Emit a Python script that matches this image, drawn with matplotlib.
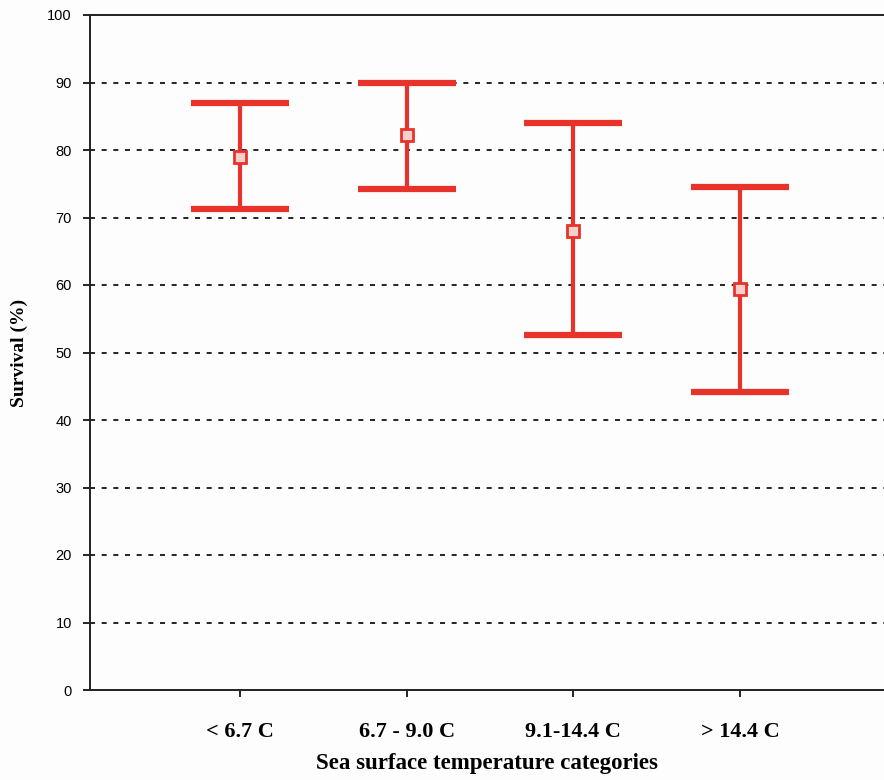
import numpy as np
import matplotlib
matplotlib.use("Agg")
import matplotlib.pyplot as plt

categories = ["< 6.7 C", "6.7 - 9.0 C", "9.1-14.4 C", "> 14.4 C"]
means = [79.0, 82.2, 68.0, 59.4]
upper = [87.0, 90.0, 84.0, 74.5]
lower = [71.2, 74.2, 52.6, 44.2]

red = "#e8332b"

fig = plt.figure(figsize=(8.84, 7.8), dpi=100)
ax = fig.add_axes([90/884, 90/780, 1 - 90/884, 675/780])
fig.patch.set_facecolor("#fdfdfd")
ax.set_facecolor("#fdfdfd")

x = np.arange(len(categories))
m = np.array(means)
yerr = [m - np.array(lower), np.array(upper) - m]
pts, caps, bars = ax.errorbar(x, m, yerr=yerr, fmt="none", ecolor=red,
                              elinewidth=3, capsize=35, capthick=4.5, zorder=3)
for c in caps:
    c.set_markeredgewidth(4.5)
    c.set_solid_capstyle("round")
ax.plot(x, m, "s", markersize=8, markerfacecolor="#f6d0cc",
        markeredgecolor=red, markeredgewidth=2, zorder=4)

for yv in range(10, 100, 10):
    ax.axhline(yv, color="black", ls=(0, (3, 4)), lw=1.2, zorder=1)

ax.set_xlim(-0.9, 3.863)
ax.set_ylim(0, 100)
ax.set_yticks(range(0, 101, 10))
ax.set_xticks(x)
ax.set_xticklabels(categories, fontfamily="Liberation Serif", fontweight="bold", fontsize=16)
for t in ax.get_yticklabels():
    t.set_fontfamily("Liberation Sans")
    t.set_fontsize(10.5)
ax.tick_params(axis="y", length=5, width=1.2, pad=8)
ax.tick_params(axis="x", length=5, width=1.2, pad=18)
ax.spines["right"].set_visible(False)
for s in ["left", "bottom", "top"]:
    ax.spines[s].set_linewidth(1.4)
    ax.spines[s].set_color("#222222")

ax.set_xlabel("Sea surface temperature categories", fontfamily="Liberation Serif",
              fontweight="bold", fontsize=16.5, labelpad=8)
ax.set_ylabel("Survival (%)", fontfamily="Liberation Serif", fontweight="bold",
              fontsize=14, labelpad=14)

fig.savefig("out.png", dpi=100, facecolor=fig.get_facecolor())
